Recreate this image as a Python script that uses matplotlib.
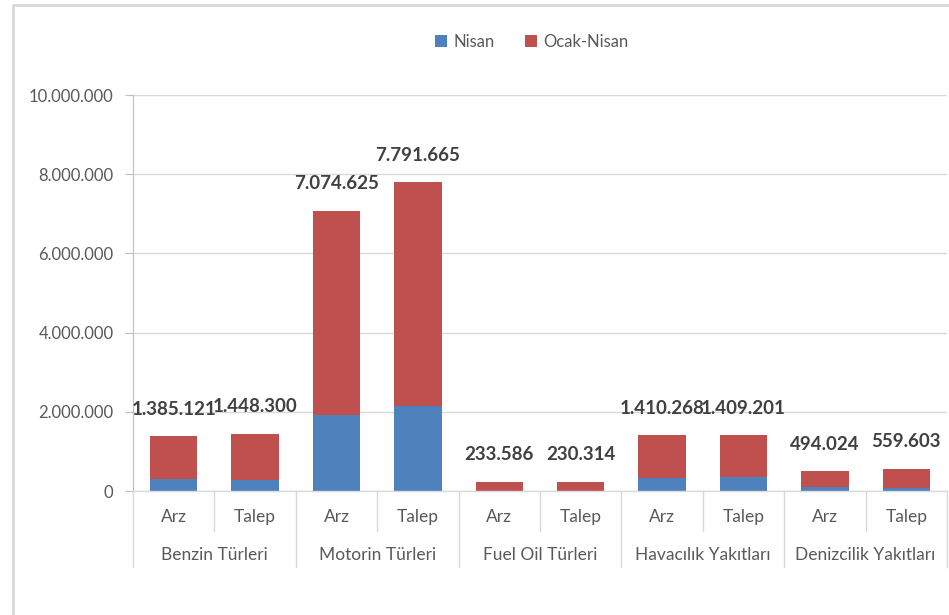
import matplotlib.pyplot as plt
from matplotlib.patches import Rectangle

plt.rcParams['font.family'] = ['Lato', 'DejaVu Sans']

# data
groups = ['Benzin Türleri', 'Motorin Türleri', 'Fuel Oil Türleri', 'Havacılık Yakıtları', 'Denizcilik Yakıtları']
subs = ['Arz', 'Talep']
nisan = [310000, 280000, 1920000, 2140000, 0, 0, 340000, 350000, 100000, 80000]
totals = [1385121, 1448300, 7074625, 7791665, 233586, 230314, 1410268, 1409201, 494024, 559603]
yticks = [0, 2000000, 4000000, 6000000, 8000000, 10000000]

blue = '#4F81BD'
red = '#C0504D'
grid = '#D9D9D9'
txt = '#595959'

fig = plt.figure(figsize=(9.49, 6.15), dpi=100)
# chart border (light gray, cut off at right/bottom)
fig.patches.append(Rectangle((13/949, -0.1), 1.2, 1 - 5/615 + 0.1, transform=fig.transFigure,
                             fill=False, edgecolor='#D9D9D9', linewidth=2))

ax = fig.add_axes([133/949, 1 - 491/615, (947 - 133)/949, (491 - 95)/615])

n = len(totals)
x = list(range(n))
red_part = [t - b for t, b in zip(totals, nisan)]
ax.bar(x, nisan, width=0.58, color=blue, label='Nisan', zorder=3)
ax.bar(x, red_part, width=0.58, bottom=nisan, color=red, label='Ocak-Nisan', zorder=3)

for xi, t in zip(x, totals):
    lab = '{:,}'.format(t).replace(',', '.')
    ax.annotate(lab, (xi, t), xytext=(0, 27), textcoords='offset pixels', ha='center', va='center',
                fontsize=13.5, fontweight='bold', color='#404040')

ax.set_xlim(-0.5, n - 0.5)
ax.set_ylim(0, 10000000)
ax.set_yticks(yticks)
ax.set_yticklabels(['{:,}'.format(v).replace(',', '.') for v in yticks], fontsize=12, color=txt)
ax.yaxis.grid(True, color=grid, linewidth=1, zorder=0)
ax.tick_params(axis='y', length=6, color='#BFBFBF', pad=8)

for s in ['top', 'right', 'bottom']:
    ax.spines[s].set_visible(False)
ax.spines['left'].set_color('#BFBFBF')

# category axis labels (two levels)
ax.set_xticks([])
trans = ax.get_xaxis_transform()
ppx = 1.0 / (491 - 95)  # axes fraction per pixel
for i in range(n):
    ax.text(i, -26 * ppx, subs[i % 2], transform=trans, ha='center', va='center', fontsize=12.5, color=txt)
for g, name in enumerate(groups):
    ax.text(2 * g + 0.5, -64 * ppx, name, transform=trans, ha='center', va='center', fontsize=12.5, color=txt)
# separators
for b in range(n + 1):
    xb = b - 0.5
    if b % 2 == 0:
        ax.plot([xb, xb], [0, -76 * ppx], transform=trans, color=grid, linewidth=1, clip_on=False)
    else:
        ax.plot([xb, xb], [0, -40 * ppx], transform=trans, color=grid, linewidth=1, clip_on=False)
ax.plot([-0.5, n - 0.5], [0, 0], transform=trans, color=grid, linewidth=1, clip_on=False, zorder=4)

fig.legend(loc='center', bbox_to_anchor=(532/949, 1 - 42/615), ncol=2, frameon=False,
           fontsize=12, handlelength=0.7, handleheight=0.7, handletextpad=0.4, columnspacing=1.8,
           labelcolor=txt)

fig.savefig('out.png', dpi=100)
